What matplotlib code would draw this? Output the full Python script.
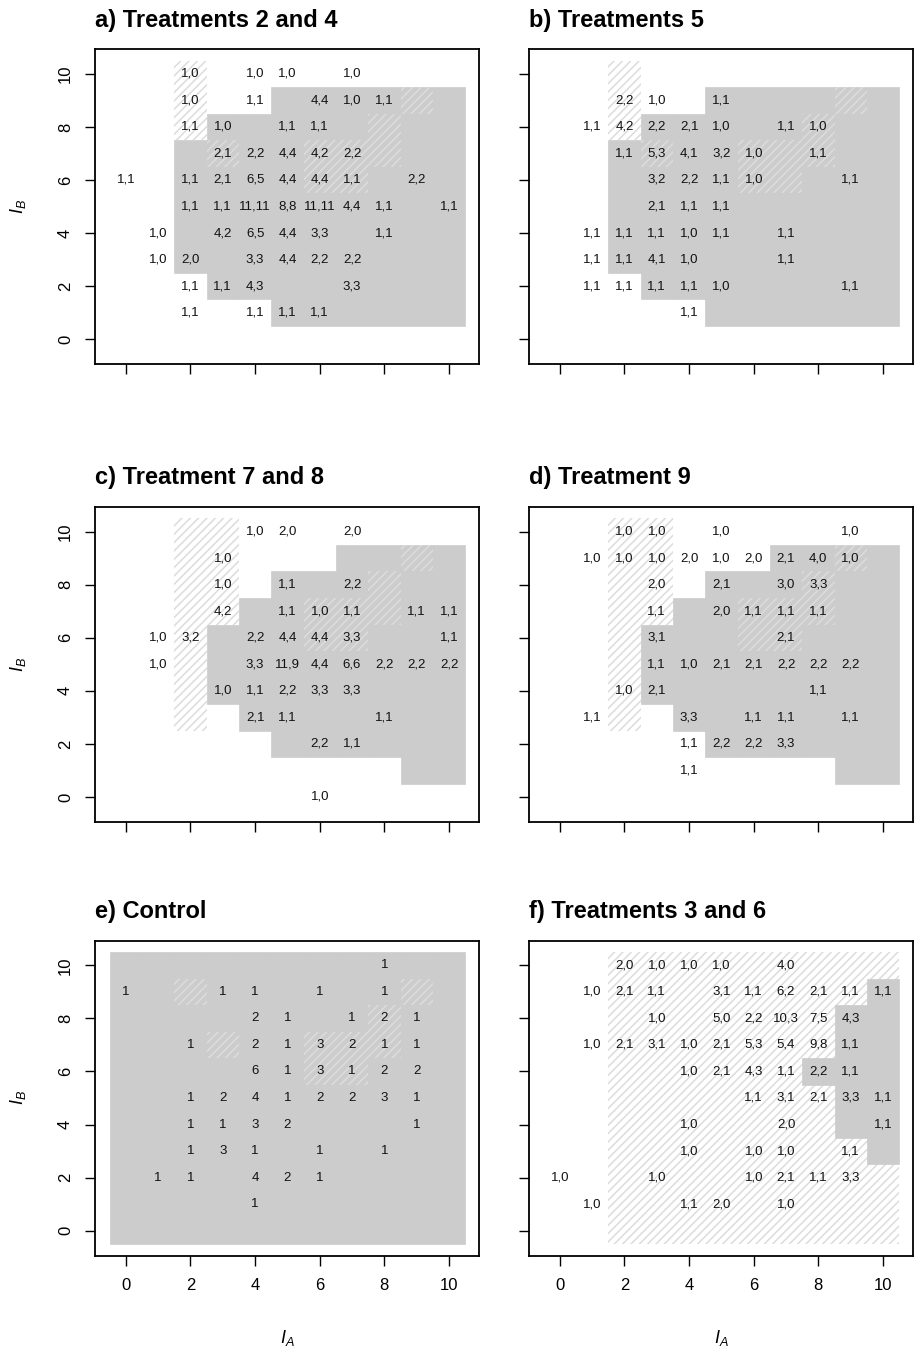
import matplotlib
matplotlib.use('Agg')
import matplotlib.pyplot as plt

GRAY = '#cccccc'
HATCH = '#dcdcdc'

plt.rcParams['font.family'] = ['Liberation Sans', 'DejaVu Sans']
plt.rcParams['mathtext.fontset'] = 'custom'
plt.rcParams['mathtext.it'] = 'Liberation Sans:italic'
plt.rcParams['mathtext.rm'] = 'Liberation Sans'
plt.rcParams['hatch.linewidth'] = 1.1
plt.rcParams['hatch.color'] = HATCH

# ---------------- data ----------------
cols = list(range(11))
tick_vals = [0, 2, 4, 6, 8, 10]
tick_labels = ['0', '2', '4', '6', '8', '10']

titles = ['a) Treatments 2 and 4', 'b) Treatments 5', 'c) Treatment 7 and 8',
          'd) Treatment 9', 'e) Control', 'f) Treatments 3 and 6']

# Cell labels: rows listed from I_B = 10 down to I_B = 0, columns I_A = 0..10
labels_a = [
    ['', '', '1,0', '', '1,0', '1,0', '', '1,0', '', '', ''],
    ['', '', '1,0', '', '1,1', '', '4,4', '1,0', '1,1', '', ''],
    ['', '', '1,1', '1,0', '', '1,1', '1,1', '', '', '', ''],
    ['', '', '', '2,1', '2,2', '4,4', '4,2', '2,2', '', '', ''],
    ['1,1', '', '1,1', '2,1', '6,5', '4,4', '4,4', '1,1', '', '2,2', ''],
    ['', '', '1,1', '1,1', '11,11', '8,8', '11,11', '4,4', '1,1', '', '1,1'],
    ['', '1,0', '', '4,2', '6,5', '4,4', '3,3', '', '1,1', '', ''],
    ['', '1,0', '2,0', '', '3,3', '4,4', '2,2', '2,2', '', '', ''],
    ['', '', '1,1', '1,1', '4,3', '', '', '3,3', '', '', ''],
    ['', '', '1,1', '', '1,1', '1,1', '1,1', '', '', '', ''],
    ['', '', '', '', '', '', '', '', '', '', ''],
]
labels_b = [
    ['', '', '', '', '', '', '', '', '', '', ''],
    ['', '', '2,2', '1,0', '', '1,1', '', '', '', '', ''],
    ['', '1,1', '4,2', '2,2', '2,1', '1,0', '', '1,1', '1,0', '', ''],
    ['', '', '1,1', '5,3', '4,1', '3,2', '1,0', '', '1,1', '', ''],
    ['', '', '', '3,2', '2,2', '1,1', '1,0', '', '', '1,1', ''],
    ['', '', '', '2,1', '1,1', '1,1', '', '', '', '', ''],
    ['', '1,1', '1,1', '1,1', '1,0', '1,1', '', '1,1', '', '', ''],
    ['', '1,1', '1,1', '4,1', '1,0', '', '', '1,1', '', '', ''],
    ['', '1,1', '1,1', '1,1', '1,1', '1,0', '', '', '', '1,1', ''],
    ['', '', '', '', '1,1', '', '', '', '', '', ''],
    ['', '', '', '', '', '', '', '', '', '', ''],
]
labels_c = [
    ['', '', '', '', '1,0', '2,0', '', '2,0', '', '', ''],
    ['', '', '', '1,0', '', '', '', '', '', '', ''],
    ['', '', '', '1,0', '', '1,1', '', '2,2', '', '', ''],
    ['', '', '', '4,2', '', '1,1', '1,0', '1,1', '', '1,1', '1,1'],
    ['', '1,0', '3,2', '', '2,2', '4,4', '4,4', '3,3', '', '', '1,1'],
    ['', '1,0', '', '', '3,3', '11,9', '4,4', '6,6', '2,2', '2,2', '2,2'],
    ['', '', '', '1,0', '1,1', '2,2', '3,3', '3,3', '', '', ''],
    ['', '', '', '', '2,1', '1,1', '', '', '1,1', '', ''],
    ['', '', '', '', '', '', '2,2', '1,1', '', '', ''],
    ['', '', '', '', '', '', '', '', '', '', ''],
    ['', '', '', '', '', '', '1,0', '', '', '', ''],
]
labels_d = [
    ['', '', '1,0', '1,0', '', '1,0', '', '', '', '1,0', ''],
    ['', '1,0', '1,0', '1,0', '2,0', '1,0', '2,0', '2,1', '4,0', '1,0', ''],
    ['', '', '', '2,0', '', '2,1', '', '3,0', '3,3', '', ''],
    ['', '', '', '1,1', '', '2,0', '1,1', '1,1', '1,1', '', ''],
    ['', '', '', '3,1', '', '', '', '2,1', '', '', ''],
    ['', '', '', '1,1', '1,0', '2,1', '2,1', '2,2', '2,2', '2,2', ''],
    ['', '', '1,0', '2,1', '', '', '', '', '1,1', '', ''],
    ['', '1,1', '', '', '3,3', '', '1,1', '1,1', '', '1,1', ''],
    ['', '', '', '', '1,1', '2,2', '2,2', '3,3', '', '', ''],
    ['', '', '', '', '1,1', '', '', '', '', '', ''],
    ['', '', '', '', '', '', '', '', '', '', ''],
]
labels_e = [
    ['', '', '', '', '', '', '', '', '1', '', ''],
    ['1', '', '', '1', '1', '', '1', '', '1', '', ''],
    ['', '', '', '', '2', '1', '', '1', '2', '1', ''],
    ['', '', '1', '', '2', '1', '3', '2', '1', '1', ''],
    ['', '', '', '', '6', '1', '3', '1', '2', '2', ''],
    ['', '', '1', '2', '4', '1', '2', '2', '3', '1', ''],
    ['', '', '1', '1', '3', '2', '', '', '', '1', ''],
    ['', '', '1', '3', '1', '', '1', '', '1', '', ''],
    ['', '1', '1', '', '4', '2', '1', '', '', '', ''],
    ['', '', '', '', '1', '', '', '', '', '', ''],
    ['', '', '', '', '', '', '', '', '', '', ''],
]
labels_f = [
    ['', '', '2,0', '1,0', '1,0', '1,0', '', '4,0', '', '', ''],
    ['', '1,0', '2,1', '1,1', '', '3,1', '1,1', '6,2', '2,1', '1,1', '1,1'],
    ['', '', '', '1,0', '', '5,0', '2,2', '10,3', '7,5', '4,3', ''],
    ['', '1,0', '2,1', '3,1', '1,0', '2,1', '5,3', '5,4', '9,8', '1,1', ''],
    ['', '', '', '', '1,0', '2,1', '4,3', '1,1', '2,2', '1,1', ''],
    ['', '', '', '', '', '', '1,1', '3,1', '2,1', '3,3', '1,1'],
    ['', '', '', '', '1,0', '', '', '2,0', '', '', '1,1'],
    ['', '', '', '', '1,0', '', '1,0', '1,0', '', '1,1', ''],
    ['1,0', '', '', '1,0', '', '', '1,0', '2,1', '1,1', '3,3', ''],
    ['', '1,0', '', '', '1,1', '2,0', '', '1,0', '', '', ''],
    ['', '', '', '', '', '', '', '', '', '', ''],
]

N = None
# Gray region: per column I_A = 0..10, lowest and highest I_B cell
gray_lo_a = [N, N, 3, 2, 2, 1, 1, 1, 1, 1, 1]
gray_hi_a = [N, N, 7, 8, 8, 9, 9, 9, 9, 9, 9]
gray_lo_b = [N, N, 3, 2, 2, 1, 1, 1, 1, 1, 1]
gray_hi_b = [N, N, 7, 8, 8, 9, 9, 9, 9, 9, 9]
gray_lo_c = [N, N, N, 4, 3, 2, 2, 2, 2, 1, 1]
gray_hi_c = [N, N, N, 6, 7, 8, 8, 9, 9, 9, 9]
gray_lo_d = [N, N, N, 4, 3, 2, 2, 2, 2, 1, 1]
gray_hi_d = [N, N, N, 6, 7, 8, 8, 9, 9, 9, 9]
gray_lo_e = [0, 0, 0, 0, 0, 0, 0, 0, 0, 0, 0]
gray_hi_e = [10, 10, 10, 10, 10, 10, 10, 10, 10, 10, 10]
gray_lo_f = [N, N, N, N, N, N, N, N, 6, 4, 3]
gray_hi_f = [N, N, N, N, N, N, N, N, 6, 8, 9]

# Hatched region: per column lowest and highest I_B cell
hatch_lo_a = [N, N, 8, 7, N, N, 6, 6, 7, 9, N]
hatch_hi_a = [N, N, 10, 7, N, N, 7, 7, 8, 9, N]
hatch_lo_b = [N, N, 8, 7, N, N, 6, 6, 7, 9, N]
hatch_hi_b = [N, N, 10, 7, N, N, 7, 7, 8, 9, N]
hatch_lo_c = [N, N, 3, 7, N, N, 6, 6, 7, 9, N]
hatch_hi_c = [N, N, 10, 10, N, N, 7, 7, 8, 9, N]
hatch_lo_d = [N, N, 3, 7, N, N, 6, 6, 7, 9, N]
hatch_hi_d = [N, N, 10, 10, N, N, 7, 7, 8, 9, N]
hatch_lo_e = [N, N, 9, 7, N, N, 6, 6, 7, 9, N]
hatch_hi_e = [N, N, 9, 7, N, N, 7, 7, 8, 9, N]
hatch_lo_f = [N, N, 0, 0, 0, 0, 0, 0, 0, 0, 0]
hatch_hi_f = [N, N, 10, 10, 10, 10, 10, 10, 10, 10, 10]
gray_over_hatch = [False, False, False, False, False, True]

panels = [
    (labels_a, gray_lo_a, gray_hi_a, hatch_lo_a, hatch_hi_a),
    (labels_b, gray_lo_b, gray_hi_b, hatch_lo_b, hatch_hi_b),
    (labels_c, gray_lo_c, gray_hi_c, hatch_lo_c, hatch_hi_c),
    (labels_d, gray_lo_d, gray_hi_d, hatch_lo_d, hatch_hi_d),
    (labels_e, gray_lo_e, gray_hi_e, hatch_lo_e, hatch_hi_e),
    (labels_f, gray_lo_f, gray_hi_f, hatch_lo_f, hatch_hi_f),
]

# ---------------- layout ----------------
W, H = 916, 1353
fig = plt.figure(figsize=(W / 100, H / 100), dpi=100)
lefts = [95.4, 529.4]
tops = [49.0, 506.8, 940.5]
aw, ah = 384.0, 315.0


def col_bars(ax, lo, hi, **kw):
    xs, hs, bs = [], [], []
    for x, l, h in zip(cols, lo, hi):
        if l is None:
            continue
        xs.append(x)
        hs.append(h - l + 1)
        bs.append(l - 0.5)
    ax.bar(xs, hs, bottom=bs, width=1.0, align='center', **kw)


for i, (labels, glo, ghi, hlo, hhi) in enumerate(panels):
    r, c = divmod(i, 2)
    ax = fig.add_axes([lefts[c] / W, 1 - (tops[r] + ah) / H, aw / W, ah / H])
    ax.set_xlim(-0.94, 10.94)
    ax.set_ylim(-0.94, 10.94)

    zg, zh = (2, 3) if not gray_over_hatch[i] else (3, 2)
    col_bars(ax, glo, ghi, color=GRAY, edgecolor=GRAY, linewidth=0.5, zorder=zg)
    col_bars(ax, hlo, hhi, fill=False, hatch='////', edgecolor=HATCH,
             linewidth=0, zorder=zh)

    for k, row in enumerate(labels):
        yv = 10 - k
        for x, s in zip(cols, row):
            if s:
                ax.text(x, yv, s, ha='center', va='center', fontsize=9.5,
                        color='#111111', zorder=5)

    for sp in ax.spines.values():
        sp.set_linewidth(1.3)
    ax.set_xticks(tick_vals)
    ax.set_yticks(tick_vals)
    ax.tick_params(direction='out', length=7.2, width=1.0, labelsize=12,
                   pad=9)
    ax.set_yticklabels(tick_labels, rotation=90, va='center')
    ax.set_xticklabels(tick_labels)
    if c == 1:
        ax.tick_params(labelleft=False)
    if r < 2:
        ax.tick_params(labelbottom=False)

    ax.text(0.0, 1 + 29 / ah, titles[i], transform=ax.transAxes, ha='left',
            va='center', fontsize=17, fontweight='bold')
    if c == 0:
        ax.text(-77 / aw, 0.5, r'$I_B$', transform=ax.transAxes, rotation=90,
                ha='center', va='center', fontsize=13)
    if r == 2:
        ax.text(0.5, -82 / ah, r'$I_A$', transform=ax.transAxes,
                ha='center', va='center', fontsize=13)

fig.savefig('out.png', dpi=100)
